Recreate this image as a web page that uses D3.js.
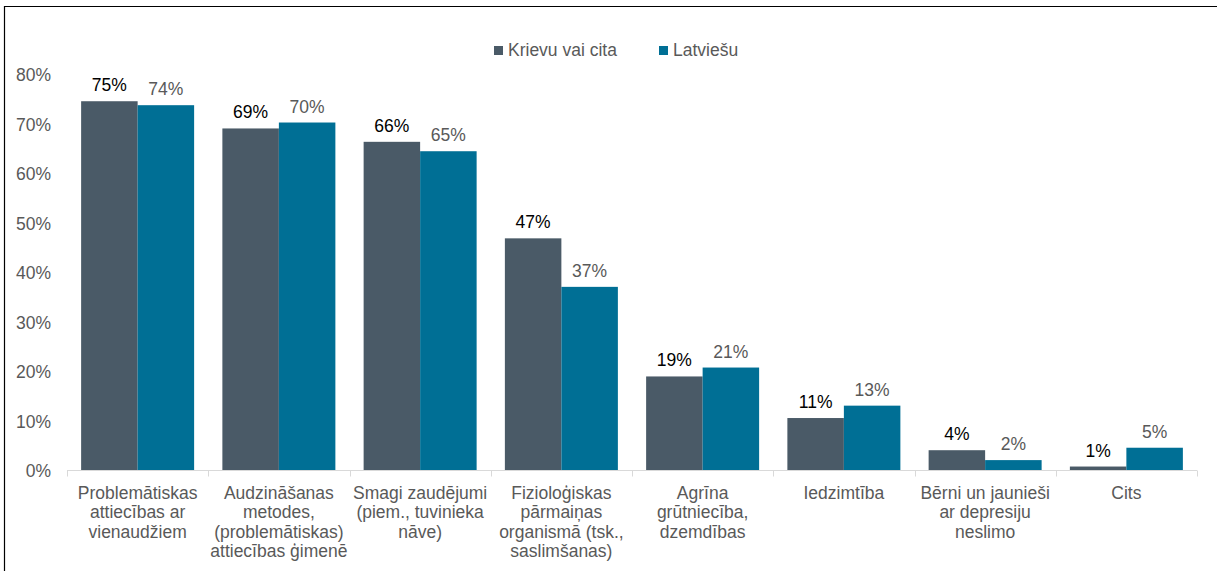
<!DOCTYPE html>
<html><head><meta charset="utf-8">
<script src="https://cdn.jsdelivr.net/npm/d3@7"></script>
<style>body{margin:0;background:#fff}svg{display:block;font-family:"Liberation Sans",Arial,sans-serif}</style>
</head><body><svg id="c" width="1217" height="571"></svg>
<script>
const categories = [
  ["Problemātiskas","attiecības ar","vienaudžiem"],
  ["Audzināšanas","metodes,","(problemātiskas)","attiecības ģimenē"],
  ["Smagi zaudējumi","(piem., tuvinieka","nāve)"],
  ["Fizioloģiskas","pārmaiņas","organismā (tsk.,","saslimšanas)"],
  ["Agrīna","grūtniecība,","dzemdības"],
  ["Iedzimtība"],
  ["Bērni un jaunieši","ar depresiju","neslimo"],
  ["Cits"]
];
const seriesNames = ["Krievu vai cita", "Latviešu"];
const krievu = [74.6, 69.1, 66.4, 46.9, 19.0, 10.6, 4.1, 0.8];
const latviesu = [73.8, 70.3, 64.5, 37.1, 20.8, 13.1, 2.1, 4.6];
const labelsKrievu = ["75%","69%","66%","47%","19%","11%","4%","1%"];
const labelsLatviesu = ["74%","70%","65%","37%","21%","13%","2%","5%"];
const yTicks = [0,10,20,30,40,50,60,70,80];

const colors = ["#4a5a67", "#006f95"];
const labelColors = ["#000000", "#595959"];
const FS = 17.5;

const svg = d3.select("#c");
// border
svg.append("path").attr("d","M4.5,571 L4.5,6.5 L1217,6.5").attr("fill","none").attr("stroke","#000").attr("stroke-width",1.2);

const mLeft = 67, mRight = 1197, mTop = 74.5, mBottom = 470.5;
const x0 = d3.scaleBand().domain(d3.range(categories.length)).range([mLeft, mRight]).paddingInner(0).paddingOuter(0);
const x1 = d3.scaleBand().domain([0,1]).range([0, x0.bandwidth()]).paddingInner(0).paddingOuter(0.25);
const y = d3.scaleLinear().domain([0,80]).range([mBottom, mTop]);

// y axis labels
const ya = svg.append("g").attr("transform",`translate(${mLeft-16},0)`)
  .call(d3.axisLeft(y).tickValues(yTicks).tickFormat(d=>d+"%").tickSize(0).tickPadding(0));
ya.select(".domain").remove();
ya.selectAll("text").attr("font-size",FS).attr("fill","#595959").attr("font-family","Liberation Sans, Arial, sans-serif").attr("dy","0.35em");

// bars
const series = [krievu, latviesu];
const labels = [labelsKrievu, labelsLatviesu];
series.forEach((vals, s) => {
  svg.append("g").selectAll("rect").data(vals).join("rect")
    .attr("x",(d,i)=>x0(i)+x1(s))
    .attr("y",d=>y(d))
    .attr("width",x1.bandwidth())
    .attr("height",d=>y(0)-y(d))
    .attr("fill",colors[s]);
  svg.append("g").selectAll("text").data(vals).join("text")
    .attr("x",(d,i)=>x0(i)+x1(s)+x1.bandwidth()/2)
    .attr("y",d=>y(d)-10)
    .attr("text-anchor","middle")
    .attr("font-size",FS)
    .attr("fill",labelColors[s])
    .text((d,i)=>labels[s][i]);
});

// x axis
const xa = svg.append("g").attr("transform",`translate(0,${mBottom})`);
xa.append("line").attr("x1",mLeft).attr("x2",mRight).attr("y1",0).attr("y2",0).attr("stroke","#d9d9d9").attr("stroke-width",1);
d3.range(categories.length+1).forEach(i=>{
  const xx = Math.round(mLeft + i*x0.bandwidth())+0.5;
  xa.append("line").attr("x1",xx).attr("x2",xx).attr("y1",0).attr("y2",6).attr("stroke","#d9d9d9");
});
categories.forEach((lines,i)=>{
  const t = xa.append("text").attr("text-anchor","middle").attr("font-size",FS).attr("fill","#595959")
    .attr("x", x0(i)+x0.bandwidth()/2).attr("y", 28);
  lines.forEach((l,j)=>t.append("tspan").attr("x", x0(i)+x0.bandwidth()/2).attr("dy", j===0?0:19.6).text(l));
});

// legend
const lg = svg.append("g");
const legendItems = [{x:494, name:seriesNames[0]},{x:659, name:seriesNames[1]}];
legendItems.forEach((it,s)=>{
  lg.append("rect").attr("x",it.x).attr("y",46).attr("width",9).attr("height",9).attr("fill",colors[s]);
  lg.append("text").attr("x",it.x+14).attr("y",56).attr("font-size",FS).attr("fill","#595959").text(it.name);
});
</script></body></html>
